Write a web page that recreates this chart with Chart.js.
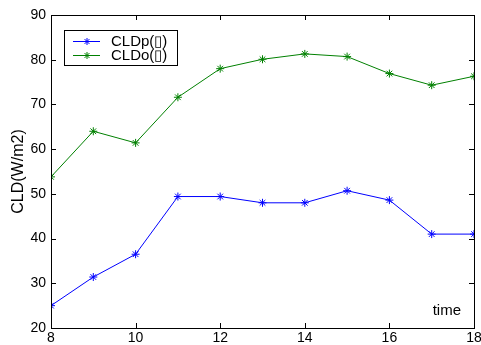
<!DOCTYPE html>
<html>
<head>
<meta charset="utf-8">
<script src="https://cdn.jsdelivr.net/npm/chart.js@4/dist/chart.umd.min.js"></script>
<style>
html,body{margin:0;padding:0;background:#fff;}
#wrap{width:481px;height:345px;position:relative;}
</style>
</head>
<body>
<div id="wrap"><canvas id="c" width="481" height="345"></canvas></div>
<script>
const hours = [8, 9, 10, 11, 12, 13, 14, 15, 16, 17, 18];
const cldP = [25, 31.4, 36.5, 49.4, 49.4, 48, 48, 50.7, 48.6, 41, 41];
const cldO = [53.8, 64, 61.4, 71.6, 78, 80.1, 81.3, 80.7, 76.9, 74.3, 76.3];
const seriesLabels = ['CLDp(\u25AF)', 'CLDo(\u25AF)'];
const seriesColors = ['#0000ff', '#008000'];
const xTitle = 'time';
const yTitle = 'CLD(W/m2)';

const FONT = '"Liberation Sans", Arial, sans-serif';

function pts(vals){ return hours.map((h,i)=>({x:h,y:vals[i]})); }

const boxPlugin = {
  id:'boxPlugin',
  afterDraw(chart){
    const ctx = chart.ctx, a = chart.chartArea;
    const xs = chart.scales.x, ys = chart.scales.y;
    ctx.save();
    ctx.strokeStyle = '#000'; ctx.lineWidth = 1;
    ctx.strokeRect(Math.round(a.left)+0.5, Math.round(a.top)+0.5, Math.round(a.right-a.left), Math.round(a.bottom-a.top));
    ctx.beginPath();
    const tl = 5;
    xs.ticks.forEach(t=>{
      const px = Math.round(xs.getPixelForValue(t.value))+0.5;
      ctx.moveTo(px, a.bottom); ctx.lineTo(px, a.bottom-tl);
      ctx.moveTo(px, a.top); ctx.lineTo(px, a.top+tl);
    });
    ys.ticks.forEach(t=>{
      const py = Math.round(ys.getPixelForValue(t.value))+0.5;
      ctx.moveTo(a.left, py); ctx.lineTo(a.left+tl, py);
      ctx.moveTo(a.right, py); ctx.lineTo(a.right-tl, py);
    });
    ctx.stroke();
    // x title inside plot
    ctx.fillStyle = '#000';
    ctx.font = '15px ' + FONT;
    ctx.textAlign = 'right'; ctx.textBaseline = 'middle';
    ctx.fillText(xTitle, a.right-13, a.bottom-17);
    // legend
    const lx = 64, ly = 30, lw = 113, lh = 35;
    ctx.fillStyle = '#fff';
    ctx.fillRect(lx, ly, lw, lh);
    ctx.strokeStyle = '#000';
    ctx.strokeRect(lx+0.5, ly+0.5, lw, lh);
    chart.data.datasets.forEach((ds,i)=>{
      const cy = ly + 11.5 + i*14;
      ctx.strokeStyle = ds.borderColor; ctx.lineWidth = 1;
      ctx.beginPath(); ctx.moveTo(73, cy); ctx.lineTo(100, cy); ctx.stroke();
      const r = 3.5;
      ctx.beginPath();
      ctx.moveTo(87-r, cy); ctx.lineTo(87+r, cy);
      ctx.moveTo(87, cy-r); ctx.lineTo(87, cy+r);
      const d = r*0.7;
      ctx.moveTo(87-d, cy-d); ctx.lineTo(87+d, cy+d);
      ctx.moveTo(87-d, cy+d); ctx.lineTo(87+d, cy-d);
      ctx.stroke();
      ctx.fillStyle = '#000';
      ctx.textAlign = 'left'; ctx.textBaseline = 'middle';
      ctx.font = '15px ' + FONT;
      ctx.fillText(ds.label, 111, cy);
    });
    ctx.restore();
  }
};

new Chart(document.getElementById('c'), {
  type: 'line',
  data: {
    datasets: [
      {label: seriesLabels[0], data: pts(cldP), borderColor: seriesColors[0], backgroundColor: seriesColors[0], borderWidth: 1, pointStyle: 'star', pointRadius: 4, pointBorderWidth: 1, tension: 0, fill: false},
      {label: seriesLabels[1], data: pts(cldO), borderColor: seriesColors[1], backgroundColor: seriesColors[1], borderWidth: 1, pointStyle: 'star', pointRadius: 4, pointBorderWidth: 1, tension: 0, fill: false}
    ]
  },
  options: {
    responsive: false,
    animation: false,
    devicePixelRatio: 1,
    layout: {padding: {top: 15, right: 7, left: 0, bottom: 0}},
    plugins: {legend: {display: false}, tooltip: {enabled: false}},
    scales: {
      x: {
        type: 'linear', min: 8, max: 18,
        ticks: {stepSize: 2, color: '#000', font: {family: FONT, size: 14}, padding: 2, maxRotation: 0},
        grid: {display: false, drawTicks: false},
        border: {display: false},
        afterFit(s){ s.height = 17; s.paddingLeft = 0; s.paddingRight = 0; }
      },
      y: {
        min: 20, max: 90,
        ticks: {stepSize: 10, color: '#000', font: {family: FONT, size: 14}, padding: 5},
        grid: {display: false, drawTicks: false},
        border: {display: false},
        title: {display: true, text: yTitle, color: '#000', font: {family: FONT, size: 16}, padding: {top: 9, bottom: 0}},
        afterFit(s){ s.width = 51; s.paddingTop = 0; s.paddingBottom = 0; }
      }
    }
  },
  plugins: [boxPlugin]
});
</script>
</body>
</html>
